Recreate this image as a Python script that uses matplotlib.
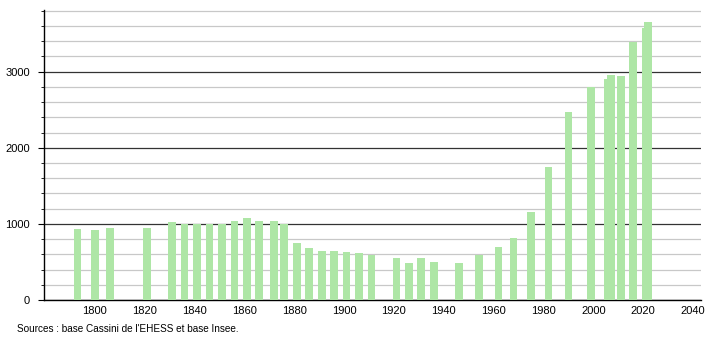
import matplotlib
matplotlib.use("Agg")
import matplotlib.pyplot as plt
from matplotlib.ticker import MultipleLocator

# census years and population
years = [1793, 1800, 1806, 1821, 1831, 1836, 1841, 1846, 1851, 1856,
         1861, 1866, 1872, 1876, 1881, 1886, 1891, 1896, 1901, 1906,
         1911, 1921, 1926, 1931, 1936, 1946, 1954, 1962, 1968, 1975,
         1982, 1990, 1999, 2006, 2007, 2011, 2016, 2021, 2022]
population = [934, 921, 947, 947, 1031, 1004, 1000, 1000, 1000, 1039,
              1079, 1044, 1044, 1004, 750, 689, 645, 645, 636, 618,
              588, 557, 487, 557, 500, 487, 588, 693, 816, 1158,
              1746, 2474, 2794, 2908, 2961, 2947, 3386, 3579, 3658]

x_ticks = [1800, 1820, 1840, 1860, 1880, 1900, 1920, 1940, 1960, 1980, 2000, 2020, 2040]
y_ticks = [0, 1000, 2000, 3000]
source_text = "Sources : base Cassini de l'EHESS et base Insee."

plt.rcParams["font.family"] = ["Liberation Sans", "DejaVu Sans"]

fig = plt.figure(figsize=(7.1, 3.4), dpi=100)
ax = fig.add_axes([44 / 710, 40 / 340, (701 - 44) / 710, 290 / 340])

ax.bar(years, population, width=3.1, color="#aee6a6", zorder=3)

ax.set_xlim(1779.6, 2043.2)
ax.set_ylim(0, 3810)

ax.set_xticks(x_ticks)
ax.set_yticks(y_ticks)
ax.yaxis.set_minor_locator(MultipleLocator(200))

ax.grid(axis="y", which="major", color="#333333", linewidth=0.9, zorder=1)
ax.grid(axis="y", which="minor", color="#c8c8c8", linewidth=0.9, zorder=1)

for s in ["top", "right"]:
    ax.spines[s].set_visible(False)
ax.spines["left"].set_color("black")
ax.spines["bottom"].set_color("black")
ax.spines["left"].set_linewidth(1.0)
ax.spines["bottom"].set_linewidth(1.0)

ax.tick_params(axis="x", length=0, labelsize=8, pad=4)
ax.tick_params(axis="y", which="major", length=4, labelsize=8, pad=6)
ax.tick_params(axis="y", which="minor", length=2)

fig.text(17 / 710, 1 - 329 / 340, source_text, fontsize=7.2, va="center", ha="left")

fig.savefig("out.png", dpi=100)
